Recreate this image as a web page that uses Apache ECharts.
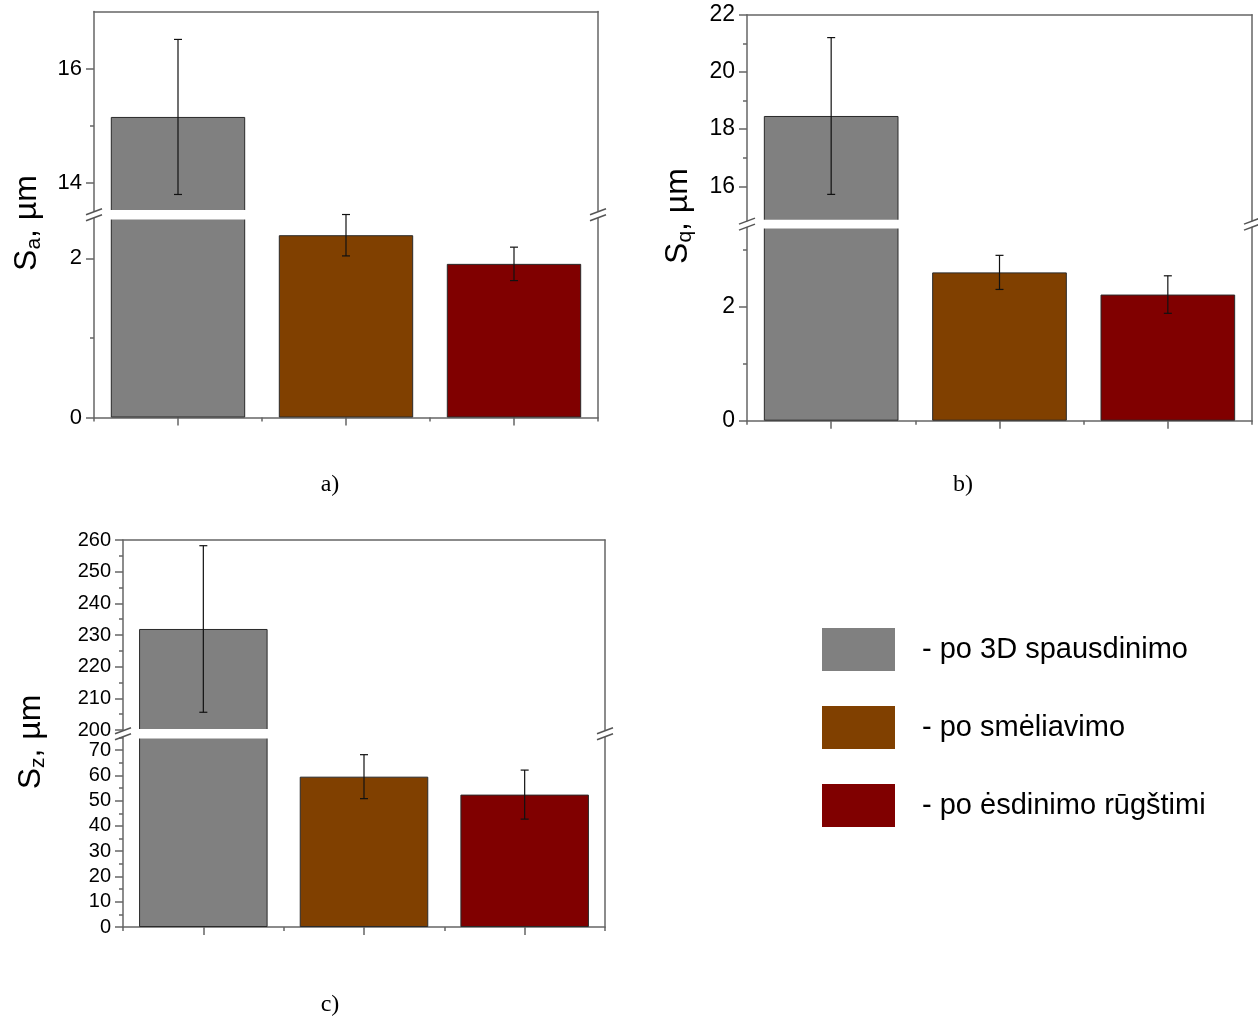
<!DOCTYPE html>
<html>
<head>
<meta charset="utf-8">
<script src="https://cdn.jsdelivr.net/npm/echarts@6/dist/echarts.min.js"></script>
<style>
html, body { margin: 0; padding: 0; background: #fff; }
#main { width: 1258px; height: 1021px; }
</style>
</head>
<body>
<div id="main"></div>
<script>
// grupės ir spalvos
var groups = ['po 3D spausdinimo', 'po smėliavimo', 'po ėsdinimo rūgštimi'];
var colors = ['#808080', '#804000', '#800000'];

// Sa
var saMean = [15.15, 2.29, 1.93];
var saErr = [1.36, 0.26, 0.21];
// Sq
var sqMean = [18.46, 2.61, 2.22];
var sqErr = [2.74, 0.30, 0.33];
// Sz
var szMean = [231.9, 59.5, 52.4];
var szErr = [26.3, 8.7, 9.7];

// ašių žymės
var saUpTicks = [14, 16], saUpMinor = [15];
var saLowTicks = [0, 2], saLowMinor = [1];
var sqUpTicks = [16, 18, 20, 22], sqUpMinor = [17, 19, 21];
var sqLowTicks = [0, 2], sqLowMinor = [1, 3];
var szUpTicks = [200, 210, 220, 230, 240, 250, 260], szUpMinor = [205, 215, 225, 235, 245, 255];
var szLowTicks = [0, 10, 20, 30, 40, 50, 60, 70], szLowMinor = [5, 15, 25, 35, 45, 55, 65, 75];

var panels = [
    { mean: saMean, err: saErr, sub: 'a', left: 94, width: 504, labelSize: 22,
      up: { top: 11.5, height: 199.5, min: 13.5, max: 17, major: saUpTicks, minor: saUpMinor },
      low: { top: 218.5, height: 199, min: 0, max: 2.5, major: saLowTicks, minor: saLowMinor },
      titleX: 27, titleY: 223, cap: 'a)', capX: 330, capY: 485 },
    { mean: sqMean, err: sqErr, sub: 'q', left: 747, width: 505, labelSize: 23,
      up: { top: 14.7, height: 206, min: 14.8, max: 22, major: sqUpTicks, minor: sqUpMinor },
      low: { top: 227.5, height: 193.2, min: 0, max: 3.4, major: sqLowTicks, minor: sqLowMinor },
      titleX: 678, titleY: 216, cap: 'b)', capX: 963, capY: 485 },
    { mean: szMean, err: szErr, sub: 'z', left: 123, width: 482, labelSize: 20,
      up: { top: 540, height: 190, min: 200, max: 260, major: szUpTicks, minor: szUpMinor },
      low: { top: 737.5, height: 189.5, min: 0, max: 75, major: szLowTicks, minor: szLowMinor },
      titleX: 31, titleY: 742, cap: 'c)', capX: 330, capY: 1005 }
];

var axisCol = '#666';
var font = 'Liberation Sans, Arial, sans-serif';

var grids = [], xAxes = [], yAxes = [], series = [], graphics = [];

function renderErr(params, api) {
    var x = api.value(0);
    var hi = api.coord([x, api.value(1) + api.value(2)]);
    var lo = api.coord([x, api.value(1) - api.value(2)]);
    var w = 4;
    var st = { stroke: '#111', lineWidth: 1.2 };
    return {
        type: 'group',
        children: [
            { type: 'line', shape: { x1: hi[0], y1: hi[1], x2: lo[0], y2: lo[1] }, style: st },
            { type: 'line', shape: { x1: hi[0] - w, y1: hi[1], x2: hi[0] + w, y2: hi[1] }, style: st },
            { type: 'line', shape: { x1: lo[0] - w, y1: lo[1], x2: lo[0] + w, y2: lo[1] }, style: st }
        ]
    };
}

function addGrid(p, part, isUpper) {
    var gi = grids.length;
    grids.push({ left: p.left, width: p.width, top: part.top, height: part.height });

    var xi = xAxes.length;
    if (isUpper) {
        xAxes.push({ type: 'category', gridIndex: gi, data: groups, position: 'top',
            axisLine: { show: true, lineStyle: { color: axisCol, width: 1.5 } },
            axisTick: { show: false }, axisLabel: { show: false } });
    } else {
        xAxes.push({ type: 'category', gridIndex: gi, data: groups, position: 'bottom',
            axisLine: { show: true, lineStyle: { color: axisCol, width: 1.5 } },
            axisTick: { show: true, alignWithLabel: true, length: 8, lineStyle: { color: axisCol, width: 1.5 } },
            axisLabel: { show: false } });
        xAxes.push({ type: 'category', gridIndex: gi, data: groups, position: 'bottom',
            axisLine: { show: false },
            axisTick: { show: true, length: 4, lineStyle: { color: axisCol, width: 1.5 } },
            axisLabel: { show: false } });
    }

    var yi = yAxes.length;
    yAxes.push({ type: 'value', gridIndex: gi, min: part.min, max: part.max, position: 'left',
        axisLine: { show: true, lineStyle: { color: axisCol, width: 1.5 } },
        axisTick: { show: true, length: 8, customValues: part.major, lineStyle: { color: axisCol, width: 1.5 } },
        axisLabel: { show: true, customValues: part.major, fontSize: p.labelSize, color: '#000', fontFamily: font, margin: 12 },
        splitLine: { show: false } });
    yAxes.push({ type: 'value', gridIndex: gi, min: part.min, max: part.max, position: 'left',
        axisLine: { show: false },
        axisTick: { show: true, length: 4, customValues: part.minor, lineStyle: { color: axisCol, width: 1.5 } },
        axisLabel: { show: false }, splitLine: { show: false } });
    yAxes.push({ type: 'value', gridIndex: gi, min: part.min, max: part.max, position: 'right',
        axisLine: { show: true, lineStyle: { color: axisCol, width: 1.5 } },
        axisTick: { show: false }, axisLabel: { show: false }, splitLine: { show: false } });

    var errData = [];
    for (var i = 0; i < groups.length; i++) {
        var visible = isUpper ? p.mean[i] > part.min : true;
        var d = groups.map(function (g, j) { return (j === i && visible) ? p.mean[i] : '-'; });
        series.push({
            type: 'bar', name: groups[i], xAxisIndex: xi, yAxisIndex: yi,
            data: d, barWidth: '80%', barGap: '-100%', clip: true,
            itemStyle: { color: colors[i], borderColor: '#2a2a2a', borderWidth: 1 },
            emphasis: { disabled: true }, silent: true
        });
        var inGrid = isUpper ? p.mean[i] > part.min : p.mean[i] <= part.max;
        if (inGrid) errData.push([i, p.mean[i], p.err[i]]);
    }
    series.push({
        type: 'custom', xAxisIndex: xi, yAxisIndex: yi, z: 5, silent: true,
        renderItem: renderErr, data: errData
    });
}

panels.forEach(function (p) {
    addGrid(p, p.up, true);
    addGrid(p, p.low, false);

    // balta juosta lūžio vietoje
    var upBottom = p.up.top + p.up.height;
    graphics.push({ type: 'rect', silent: true, z: 3,
        shape: { x: p.left + 1, y: upBottom - 1, width: p.width - 2, height: p.low.top - upBottom + 2 },
        style: { fill: '#fff' } });

    // lūžio žymės
    var yc = (upBottom + p.low.top) / 2;
    [p.left, p.left + p.width].forEach(function (x) {
        [-3, 3].forEach(function (dy) {
            graphics.push({ type: 'line', silent: true, z: 6,
                shape: { x1: x - 8, y1: yc + dy + 3, x2: x + 8, y2: yc + dy - 3 },
                style: { stroke: '#555', lineWidth: 1.5 } });
        });
    });

    graphics.push({
        type: 'text', x: p.titleX, y: p.titleY, rotation: Math.PI / 2, silent: true,
        style: {
            text: '{m|S}{s|' + p.sub + '}{m|, µm}',
            align: 'center', verticalAlign: 'middle',
            rich: {
                m: { fontSize: 32, fontFamily: font, fill: '#000' },
                s: { fontSize: 21, fontFamily: font, fill: '#000', padding: [15, 0, 0, 0] }
            }
        }
    });
    graphics.push({
        type: 'text', x: p.capX, y: p.capY, silent: true,
        style: { text: p.cap, fontSize: 24, fontFamily: 'Liberation Serif, Times New Roman, serif',
            fill: '#000', align: 'center', verticalAlign: 'middle' }
    });
});

var myChart = echarts.init(document.getElementById('main'));
var option = {
    animation: false,
    grid: grids,
    xAxis: xAxes,
    yAxis: yAxes,
    legend: {
        data: groups,
        orient: 'vertical',
        left: 822,
        top: 628,
        padding: 0,
        itemWidth: 73,
        itemHeight: 43,
        itemGap: 35,
        icon: 'rect',
        selectedMode: false,
        itemStyle: { borderWidth: 0 },
        formatter: function (name) { return '- ' + name; },
        textStyle: { fontSize: 29, color: '#000', fontFamily: font, padding: [0, 0, 0, 22] }
    },
    graphic: graphics,
    series: series
};
myChart.setOption(option);
</script>
</body>
</html>
